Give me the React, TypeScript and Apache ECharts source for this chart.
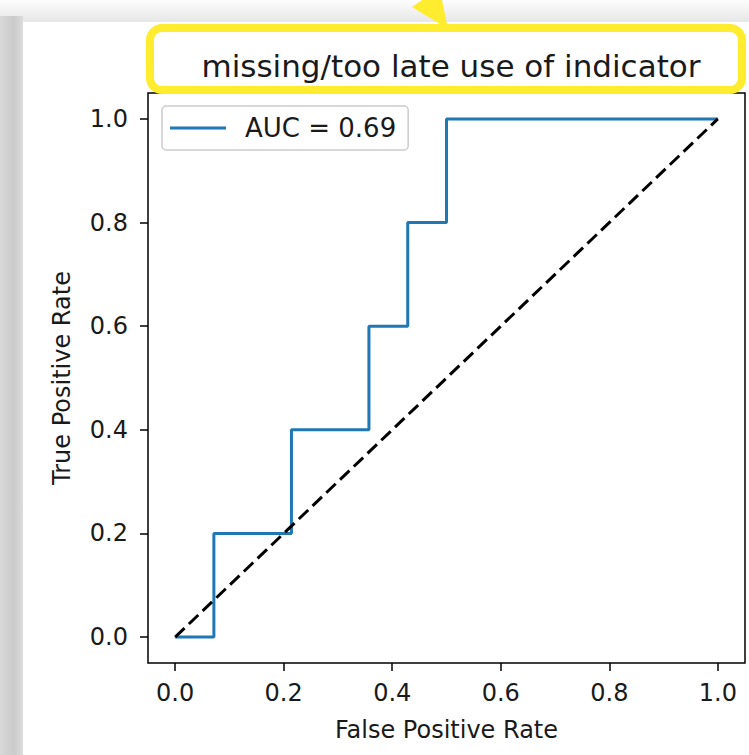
import React, { useEffect, useRef } from "react";
import * as echarts from "echarts";

const titleText = "missing/too late use of indicator";
const seriesName = "AUC = 0.69";
const fpr = [0, 0.0714, 0.0714, 0.2143, 0.2143, 0.3571, 0.3571, 0.4286, 0.4286, 0.5, 0.5, 1.0];
const tpr = [0, 0, 0.2, 0.2, 0.4, 0.4, 0.6, 0.6, 0.8, 0.8, 1.0, 1.0];
const chanceX = [0, 1];
const chanceY = [0, 1];
const tickValues = [0, 0.2, 0.4, 0.6, 0.8, 1.0];
const xAxisTitle = "False Positive Rate";
const yAxisTitle = "True Positive Rate";

const FONT = "DejaVu Sans";
const TXT = "#1a1a1a";

export default function App() {
  const ref = useRef<HTMLDivElement>(null);
  useEffect(() => {
    if (!ref.current) return;
    const chart = echarts.init(ref.current, undefined, { renderer: "svg" });
    const axisCommon = {
      type: "value",
      min: -0.05,
      max: 1.05,
      nameLocation: "middle",
      nameTextStyle: { fontFamily: FONT, fontSize: 24, color: TXT },
      axisLine: { show: false, onZero: false },
      splitLine: { show: false },
      axisTick: {
        show: true,
        length: 8,
        customValues: tickValues,
        lineStyle: { color: "#000", width: 1.5 },
      },
      axisLabel: {
        customValues: tickValues,
        fontFamily: FONT,
        fontSize: 24,
        color: TXT,
        formatter: (v: number) => v.toFixed(1),
      },
    };
    chart.setOption({
      animation: false,
      backgroundColor: "#ffffff",
      title: {
        text: titleText,
        left: 446,
        top: 61,
        textAlign: "center",
        textVerticalAlign: "middle",
        z: 20,
        textStyle: { fontFamily: FONT, fontSize: 31, fontWeight: "normal", color: TXT },
      },
      legend: {
        left: 162,
        top: 106,
        orient: "vertical",
        padding: [9, 12, 9, 8],
        icon: "rect",
        itemWidth: 56,
        itemHeight: 3,
        backgroundColor: "rgba(255,255,255,0.8)",
        borderColor: "#cccccc",
        borderWidth: 1.5,
        borderRadius: 4,
        textStyle: { fontFamily: FONT, fontSize: 26, color: TXT, padding: [0, 0, 0, 14] },
        data: [{ name: seriesName, itemStyle: { color: "#1f77b4" } }],
        z: 15,
      },
      grid: {
        left: 148,
        right: 4,
        top: 93,
        bottom: 92,
        show: true,
        borderColor: "#000",
        borderWidth: 1.5,
        backgroundColor: "transparent",
      },
      xAxis: {
        ...axisCommon,
        name: xAxisTitle,
        nameGap: 55,
        axisLabel: { ...axisCommon.axisLabel, margin: 18 },
      },
      yAxis: {
        ...axisCommon,
        name: yAxisTitle,
        nameGap: 74,
        nameRotate: 90,
        axisLabel: { ...axisCommon.axisLabel, margin: 20 },
      },
      graphic: [
        {
          type: "rect",
          z: -10,
          silent: true,
          shape: { x: 0, y: 0, width: 749, height: 755 },
          style: {
            fill: new echarts.graphic.LinearGradient(0, 0, 0, 1, [
              { offset: 0, color: "#fdfdfd" },
              { offset: 0.03, color: "#e6e6e6" },
              { offset: 1, color: "#e2e2e2" },
            ]),
          },
        },
        {
          type: "rect",
          z: -9,
          silent: true,
          shape: { x: 0, y: 16, width: 23, height: 739 },
          style: {
            fill: new echarts.graphic.LinearGradient(0, 0, 1, 0, [
              { offset: 0, color: "#d8d8d8" },
              { offset: 0.6, color: "#cbcbcb" },
              { offset: 1, color: "#dcdcdc" },
            ]),
          },
        },
        {
          type: "rect",
          z: -8,
          silent: true,
          shape: { x: 23, y: 22, width: 726, height: 733 },
          style: { fill: "#ffffff" },
        },
        {
          type: "polygon",
          z: 10,
          silent: true,
          shape: { points: [[412, 7], [422, 0], [442, 0], [447, 24], [440, 24]] },
          style: { fill: "#ffec2e" },
        },
        {
          type: "rect",
          z: 10,
          silent: true,
          shape: { x: 150, y: 28, width: 592, height: 62, r: 12 },
          style: { fill: "#ffffff", stroke: "#ffec2e", lineWidth: 8 },
        },
      ],
      series: [
        {
          name: seriesName,
          type: "line",
          symbol: "none",
          data: fpr.map((x, i) => [x, tpr[i]]),
          lineStyle: { color: "#1f77b4", width: 3 },
          itemStyle: { color: "#1f77b4" },
          z: 3,
        },
        {
          name: "chance",
          type: "line",
          symbol: "none",
          data: chanceX.map((x, i) => [x, chanceY[i]]),
          lineStyle: { color: "#000000", width: 3, type: [13, 6] },
          itemStyle: { color: "#000000" },
          z: 4,
        },
      ],
    });
    return () => chart.dispose();
  }, []);
  return (
    <div
      ref={ref}
      style={{ position: "fixed", left: 0, top: 0, width: 749, height: 755 }}
    />
  );
}
